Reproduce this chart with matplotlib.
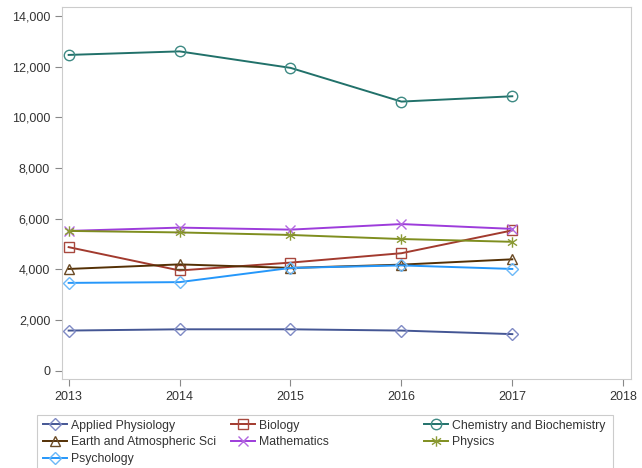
import matplotlib.pyplot as plt
from matplotlib.patches import Rectangle
from matplotlib.path import Path
from matplotlib.ticker import FuncFormatter

years = [2013, 2014, 2015, 2016, 2017]

applied_physiology = [1590, 1640, 1640, 1590, 1450]
biology = [4880, 3960, 4270, 4640, 5540]
chemistry = [12460, 12600, 11950, 10620, 10830]
earth_sci = [4020, 4200, 4060, 4190, 4400]
mathematics = [5520, 5650, 5570, 5790, 5600]
physics = [5520, 5460, 5360, 5200, 5090]
psychology = [3470, 3500, 4060, 4160, 4020]

# asterisk marker: vertical spoke plus two diagonals
star = Path([(0, -1), (0, 1), (-0.87, -0.6), (0.87, 0.6), (-0.87, 0.6), (0.87, -0.6)],
            [Path.MOVETO, Path.LINETO] * 3)

series = [
    ("Applied Physiology", applied_physiology, "#445694", "#7f8ac4", "D"),
    ("Biology", biology, "#a23a2e", "#a8483e", "s"),
    ("Chemistry and Biochemistry", chemistry, "#21716a", "#3e8a84", "o"),
    ("Earth and Atmospheric Sci", earth_sci, "#543005", "#6a4a25", "^"),
    ("Mathematics", mathematics, "#9d3cdb", "#b266e0", "x"),
    ("Physics", physics, "#7f8e1f", "#8c9a35", star),
    ("Psychology", psychology, "#2597fa", "#6bb8f8", "D"),
]

plt.rcParams["font.family"] = "Liberation Sans"

fig = plt.figure(figsize=(6.42, 4.68), dpi=100)
ax = fig.add_axes([62 / 642, 1 - 379 / 468, 569 / 642, 372 / 468])

handles = {}
for name, vals, lc, mc, mk in series:
    size = 7.5
    if isinstance(mk, str) and mk == "D":
        size = 6.5
    line, = ax.plot(years, vals, color=lc, linewidth=1.4, marker=mk, markersize=size,
                    markerfacecolor="none", markeredgecolor=mc, markeredgewidth=1.0,
                    label=name)
    handles[name] = line

ax.set_xlim(2012.94, 2018.07)
ax.set_ylim(-320, 14350)
ax.set_xticks([2013, 2014, 2015, 2016, 2017, 2018])
ax.set_yticks(range(0, 14001, 2000))
ax.yaxis.set_major_formatter(FuncFormatter(lambda v, p: f"{int(v):,}"))

for s in ax.spines.values():
    s.set_color("#cccccc")
ax.tick_params(colors="#888888", labelcolor="#333333", labelsize=9, length=5, width=0.8)

# legend frame, then three equal-width columns
fig.patches.append(Rectangle((37 / 642, -0.01), 576 / 642, 1 - 415 / 468 + 0.01,
                             transform=fig.transFigure, fill=False,
                             edgecolor="#cccccc", linewidth=0.8))
columns = [
    (39, ["Applied Physiology", "Earth and Atmospheric Sci", "Psychology"]),
    (227, ["Biology", "Mathematics"]),
    (420, ["Chemistry and Biochemistry", "Physics"]),
]
for x0, names in columns:
    leg = fig.legend([handles[n] for n in names], names,
                     loc="upper left", bbox_to_anchor=(x0 / 642, 1 - 416 / 468),
                     borderaxespad=0, fontsize=8.8, frameon=False, handlelength=2.0,
                     handletextpad=0.35, labelspacing=0.38, borderpad=0.3)
    for t in leg.get_texts():
        t.set_color("#333333")

fig.savefig("out.png", dpi=100)
